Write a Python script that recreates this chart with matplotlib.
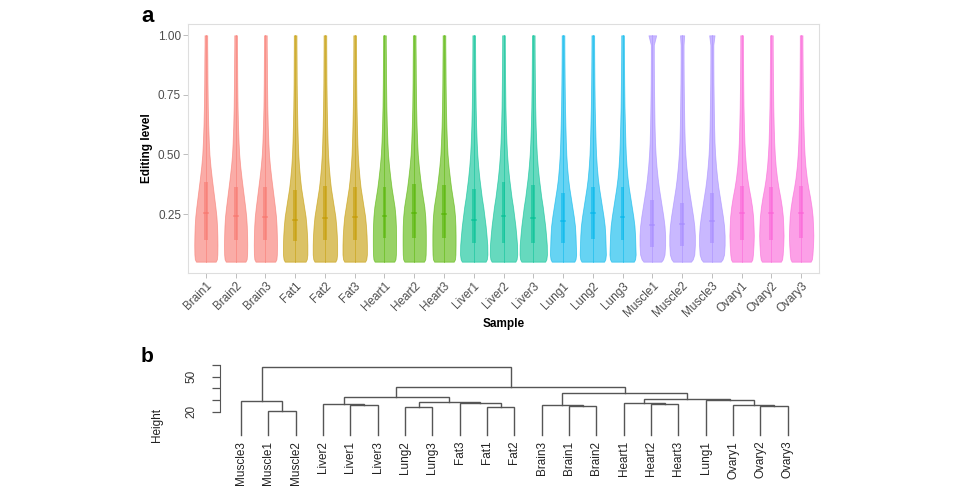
import numpy as np
import matplotlib.pyplot as plt

plt.rcParams['font.family'] = ['Liberation Sans', 'DejaVu Sans']

# ---- panel a: violin data ----
samples = ['Brain1', 'Brain2', 'Brain3', 'Fat1', 'Fat2', 'Fat3',
           'Heart1', 'Heart2', 'Heart3', 'Liver1', 'Liver2', 'Liver3',
           'Lung1', 'Lung2', 'Lung3', 'Muscle1', 'Muscle2', 'Muscle3',
           'Ovary1', 'Ovary2', 'Ovary3']
tissues = ['Brain', 'Fat', 'Heart', 'Liver', 'Lung', 'Muscle', 'Ovary']
tissue_colors = ['#F8766D', '#C49A00', '#53B400', '#00C094', '#00B6EB', '#A58AFF', '#FB61D7']

# editing levels at which the violin half widths were read
levels = [0.05, 0.06, 0.08, 0.12, 0.16, 0.20, 0.24, 0.28, 0.32, 0.36,
          0.40, 0.45, 0.50, 0.55, 0.62, 0.70, 0.80, 0.90, 0.96, 1.00]
half_width = {
    'Brain':  [0.33, 0.37, 0.385, 0.39, 0.385, 0.375, 0.355, 0.32, 0.28, 0.24,
               0.20, 0.155, 0.12, 0.10, 0.08, 0.065, 0.055, 0.05, 0.045, 0.045],
    'Fat':    [0.35, 0.39, 0.41, 0.41, 0.40, 0.38, 0.35, 0.30, 0.25, 0.20,
               0.165, 0.13, 0.105, 0.09, 0.075, 0.062, 0.052, 0.048, 0.045, 0.045],
    'Heart':  [0.33, 0.37, 0.385, 0.39, 0.39, 0.385, 0.37, 0.34, 0.29, 0.24,
               0.20, 0.155, 0.12, 0.10, 0.08, 0.065, 0.055, 0.05, 0.045, 0.045],
    'Liver':  [0.40, 0.44, 0.46, 0.455, 0.43, 0.40, 0.36, 0.32, 0.27, 0.23,
               0.19, 0.15, 0.12, 0.10, 0.08, 0.065, 0.055, 0.048, 0.045, 0.045],
    'Lung':   [0.38, 0.42, 0.44, 0.43, 0.42, 0.40, 0.36, 0.31, 0.26, 0.21,
               0.17, 0.135, 0.11, 0.095, 0.08, 0.065, 0.055, 0.048, 0.045, 0.045],
    'Muscle': [0.30, 0.36, 0.41, 0.43, 0.43, 0.41, 0.37, 0.32, 0.27, 0.22,
               0.18, 0.14, 0.11, 0.09, 0.075, 0.065, 0.055, 0.05, 0.05, 0.05],
    'Ovary':  [0.32, 0.36, 0.38, 0.40, 0.41, 0.40, 0.385, 0.35, 0.30, 0.24,
               0.19, 0.145, 0.115, 0.095, 0.078, 0.064, 0.054, 0.048, 0.045, 0.045],
}
# half width of the little cap at editing level 1.0
top_width = [0.045, 0.045, 0.045, 0.045, 0.045, 0.045, 0.045, 0.045, 0.045,
             0.045, 0.045, 0.045, 0.045, 0.045, 0.045, 0.13, 0.07, 0.09,
             0.045, 0.045, 0.045]
q1 = [0.141, 0.140, 0.140, 0.135, 0.140, 0.140, 0.148, 0.148, 0.148, 0.128, 0.130,
      0.130, 0.130, 0.144, 0.140, 0.113, 0.117, 0.130, 0.140, 0.140, 0.150]
med = [0.253, 0.240, 0.237, 0.225, 0.233, 0.237, 0.242, 0.253, 0.250, 0.225, 0.242,
       0.233, 0.220, 0.253, 0.237, 0.204, 0.210, 0.220, 0.253, 0.253, 0.253]
q3 = [0.385, 0.364, 0.364, 0.350, 0.366, 0.364, 0.364, 0.375, 0.371, 0.357, 0.385,
      0.371, 0.337, 0.364, 0.364, 0.309, 0.298, 0.337, 0.368, 0.362, 0.366]

# ---- panel b: hierarchical clustering (merge a, merge b, height) ----
# leaves are sample names, ints refer to earlier merges (1-based)
merges = [
    ('Muscle1', 'Muscle2', 20.6),
    ('Muscle3', 1, 29.2),
    ('Liver1', 'Liver3', 25.9),
    ('Liver2', 3, 26.3),
    ('Lung2', 'Lung3', 24.0),
    ('Fat1', 'Fat2', 24.0),
    ('Fat3', 6, 27.3),
    (5, 7, 28.6),
    (4, 8, 32.6),
    ('Brain1', 'Brain2', 25.2),
    ('Brain3', 10, 25.7),
    ('Heart2', 'Heart3', 26.9),
    ('Heart1', 12, 27.4),
    ('Ovary2', 'Ovary3', 24.9),
    ('Ovary1', 14, 25.7),
    ('Lung1', 15, 29.7),
    (13, 16, 31.2),
    (11, 17, 36.3),
    (9, 18, 41.2),
    (2, 19, 58.6),
]

fig = plt.figure(figsize=(9.65, 4.9), dpi=100)

# ================= panel a =================
ax = fig.add_axes([188 / 965, 1 - 273 / 490, 631 / 965, 249 / 490])
for i, s in enumerate(samples):
    t = s[:-1]
    col = tissue_colors[tissues.index(t)]
    w = np.array(half_width[t])
    w[-1] = top_width[i]
    ax.fill_betweenx(levels, i - w, i + w, color=col, alpha=0.6, lw=0.6,
                     edgecolor=col)
    ax.plot([i, i], [levels[0], levels[-1]], color=col, lw=0.7, alpha=0.5)
    bw = 0.065
    ax.fill_between([i - bw, i + bw], q1[i], q3[i], color=col, alpha=0.55, lw=0)
    ax.plot([i - bw, i + bw], [med[i], med[i]], color=col, lw=1.2, alpha=0.7)

ax.set_xlim(-0.6, 20.6)
ax.set_ylim(0.0025, 1.0475)
ax.set_xticks(range(len(samples)))
ax.set_xticklabels(samples, rotation=45, ha='right', rotation_mode='anchor')
ax.set_yticks([0.25, 0.50, 0.75, 1.00])
ax.set_yticklabels(['0.25', '0.50', '0.75', '1.00'])
ax.tick_params(length=3.5, width=0.6, color='#B3B3B3', labelsize=8.5,
               labelcolor='#4D4D4D', pad=1.5)
for sp in ax.spines.values():
    sp.set_color('#DEDEDE')
    sp.set_linewidth(0.8)
ax.set_xlabel('Sample', fontsize=8.5, fontweight='bold')
ax.xaxis.set_label_coords(0.5, -0.181)
ax.set_ylabel('Editing level', fontsize=8.5, fontweight='bold')
ax.yaxis.set_label_coords(-0.055, 0.5)

fig.text(141 / 965, 1 - 22 / 490, 'a', fontsize=16, fontweight='bold', va='baseline')

# ================= panel b =================
bx = fig.add_axes([200 / 965, 0, 620 / 965, 130 / 490])
nodes = []  # (x, height) of each merge


def node_of(item):
    if isinstance(item, str):
        return leaf_x[item], 0.0
    return nodes[item - 1]


def leaves_of(item):
    if isinstance(item, str):
        return [item]
    a, b, _ = merges[item - 1]
    return leaves_of(a) + leaves_of(b)


order = leaves_of(len(merges))
leaf_x = {name: k for k, name in enumerate(order)}

for a, b, h in merges:
    xa, ha = node_of(a)
    xb, hb = node_of(b)
    bx.plot([xa, xa, xb, xb], [ha, h, h, hb], color='#555555', lw=1.0,
            solid_joinstyle='miter')
    nodes.append(((xa + xb) / 2, h))

for name, k in leaf_x.items():
    bx.text(k, -5, name, rotation=90, ha='center', va='top', fontsize=8.5,
            color='#222222')

bx.set_xlim(-1.5, 21.18)
bx.set_ylim(-47.1, 64.3)
bx.set_xticks([])
bx.set_yticks([20, 30, 40, 50, 60])
bx.set_yticklabels(['20', '', '', '50', ''])
for side in ['top', 'right', 'bottom']:
    bx.spines[side].set_visible(False)
bx.spines['left'].set_position(('data', -0.77))
bx.spines['left'].set_bounds(20, 60)
bx.spines['left'].set_color('#555555')
bx.tick_params(axis='y', length=6, width=0.9, color='#555555', labelsize=8.5,
               labelcolor='#333333', pad=10, labelrotation=90)
for lab in bx.get_yticklabels():
    lab.set_verticalalignment('center')
bx.patch.set_alpha(0)

fig.text(157 / 965, 1 - 425 / 490, 'Height', rotation=90, ha='center',
         va='center', fontsize=8.5, color='#222222')
fig.text(141 / 965, 1 - 362 / 490, 'b', fontsize=15, fontweight='bold', va='baseline')

fig.savefig('out.png', dpi=100)
